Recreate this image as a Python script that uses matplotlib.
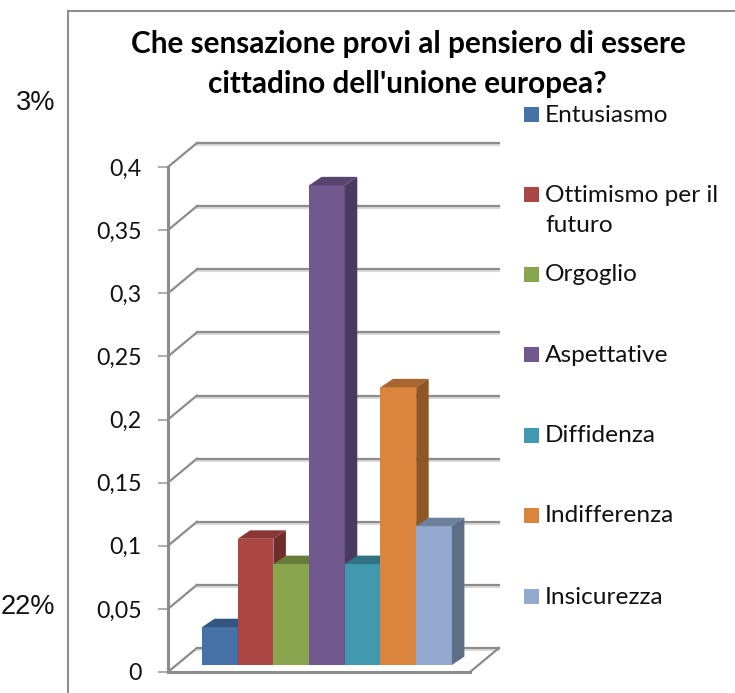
import matplotlib
matplotlib.use('Agg')
import matplotlib.pyplot as plt
from matplotlib.lines import Line2D
from matplotlib.patches import Rectangle
import numpy as np

categories = ['Entusiasmo', 'Ottimismo per il\nfuturo', 'Orgoglio', 'Aspettative',
              'Diffidenza', 'Indifferenza', 'Insicurezza']
values = [0.03, 0.10, 0.08, 0.38, 0.08, 0.22, 0.11]
y_ticks = [0, 0.05, 0.1, 0.15, 0.2, 0.25, 0.3, 0.35, 0.4]
y_tick_labels = ['0', '0,05', '0,1', '0,15', '0,2', '0,25', '0,3', '0,35', '0,4']
stray_labels = ['3%', '22%']

front_colors = ['#4672A8', '#AA4643', '#89A54E', '#71588F', '#4198AF', '#DB843D', '#93A9CF']
top_colors = ['#32567F', '#8A3634', '#677B3A', '#574570', '#317283', '#A8652F', '#6F809D']
side_colors = ['#2C4B70', '#6E2C2A', '#5A6C33', '#4A3A5F', '#2B6473', '#8F5626', '#5F6E87']

W, H = 735, 693
GRID = '#8C8C8C'
SHADOW = '#DADADA'
plt.rcParams['font.family'] = ['Lato', 'DejaVu Sans']


def fx(px):
    return px / W


def fy(py):
    return 1 - py / H


fig = plt.figure(figsize=(W / 100, H / 100), dpi=100)
fig.patch.set_facecolor('white')

# front plane of the fake 3d box
ax = fig.add_axes([fx(168), fy(672), 302 / W, 505 / H])
ax.set_xlim(-1.452, 7.007)
ax.set_ylim(0, 0.4)
ax.patch.set_alpha(0)

# back wall offset and bar depth, in data units
wall_dx, wall_dy = 0.81, 0.019
depth_dx, depth_dy = 0.35, 0.0067
bar_base = 0.0055

x0, x1 = ax.get_xlim()
for t in y_ticks:
    ax.plot([x0 + wall_dx, x1 + wall_dx], [t + wall_dy - 0.0016] * 2, color=SHADOW, lw=1.5,
            clip_on=False, zorder=1)
    ax.plot([x0 + wall_dx, x1 + wall_dx], [t + wall_dy] * 2, color=GRID, lw=1.6,
            clip_on=False, zorder=1.1)
    ax.plot([x0, x0 + wall_dx], [t, t + wall_dy], color=GRID, lw=1.6,
            clip_on=False, zorder=1.1)
ax.plot([x1, x1 + wall_dx], [0, wall_dy], color=GRID, lw=1.6, clip_on=False, zorder=1.1)

x = np.arange(len(values))
for i, v in enumerate(values):
    left, right = x[i] - 0.5, x[i] + 0.5
    top = v + bar_base
    ax.bar(x[i], v, width=1, bottom=bar_base, color=front_colors[i], zorder=3 + i * 0.1,
           clip_on=False)
    ax.fill([left, right, right + depth_dx, left + depth_dx],
            [top, top, top + depth_dy, top + depth_dy],
            color=top_colors[i], lw=0, zorder=3 + i * 0.1, clip_on=False)
    ax.fill([right, right + depth_dx, right + depth_dx, right],
            [bar_base, bar_base + depth_dy, top + depth_dy, top],
            color=side_colors[i], lw=0, zorder=3 + i * 0.1, clip_on=False)

for s in ['top', 'right']:
    ax.spines[s].set_visible(False)
for s in ['left', 'bottom']:
    ax.spines[s].set_color(GRID)
    ax.spines[s].set_linewidth(2.2)
ax.set_xticks([])
ax.set_yticks(y_ticks)
ax.set_yticklabels(y_tick_labels)
ax.tick_params(axis='y', length=7, width=1.2, color='#A0A0A0', pad=12, labelsize=16.7,
               labelcolor='#111111')

# outer chart frame
fig.add_artist(Line2D([fx(68), fx(68)], [fy(692), fy(10.5)], color='#8E8E8E', lw=1.5))
fig.add_artist(Line2D([fx(68), fx(735)], [fy(10.5), fy(10.5)], color='#8E8E8E', lw=1.5))

fig.text(fx(408), fy(44), "Che sensazione provi al pensiero di essere", ha='center', va='center',
         fontsize=21.4, fontweight='bold', color='black')
fig.text(fx(407), fy(84), "cittadino dell'unione europea?", ha='center', va='center',
         fontsize=21.4, fontweight='bold', color='black')

# legend, laid out by hand because of the uneven line wrap
legend_y = [115, 195, 275, 355, 436, 516, 597]
for name, c, py in zip(categories, front_colors, legend_y):
    fig.add_artist(Rectangle((fx(524), fy(py + 7)), 15 / W, 15 / H, color=c, lw=0,
                             transform=fig.transFigure))
    lines = name.split('\n')
    for k, line in enumerate(lines):
        fig.text(fx(545), fy(py + k * 31), line, ha='left', va='center', fontsize=17.6,
                 color='#111111')

fig.text(fx(55), fy(103), stray_labels[0], ha='right', va='center', fontsize=19.6,
         family='Liberation Sans', color='#111111')
fig.text(fx(55), fy(607), stray_labels[1], ha='right', va='center', fontsize=19.6,
         family='Liberation Sans', color='#111111')

fig.savefig('out.png', dpi=100)
